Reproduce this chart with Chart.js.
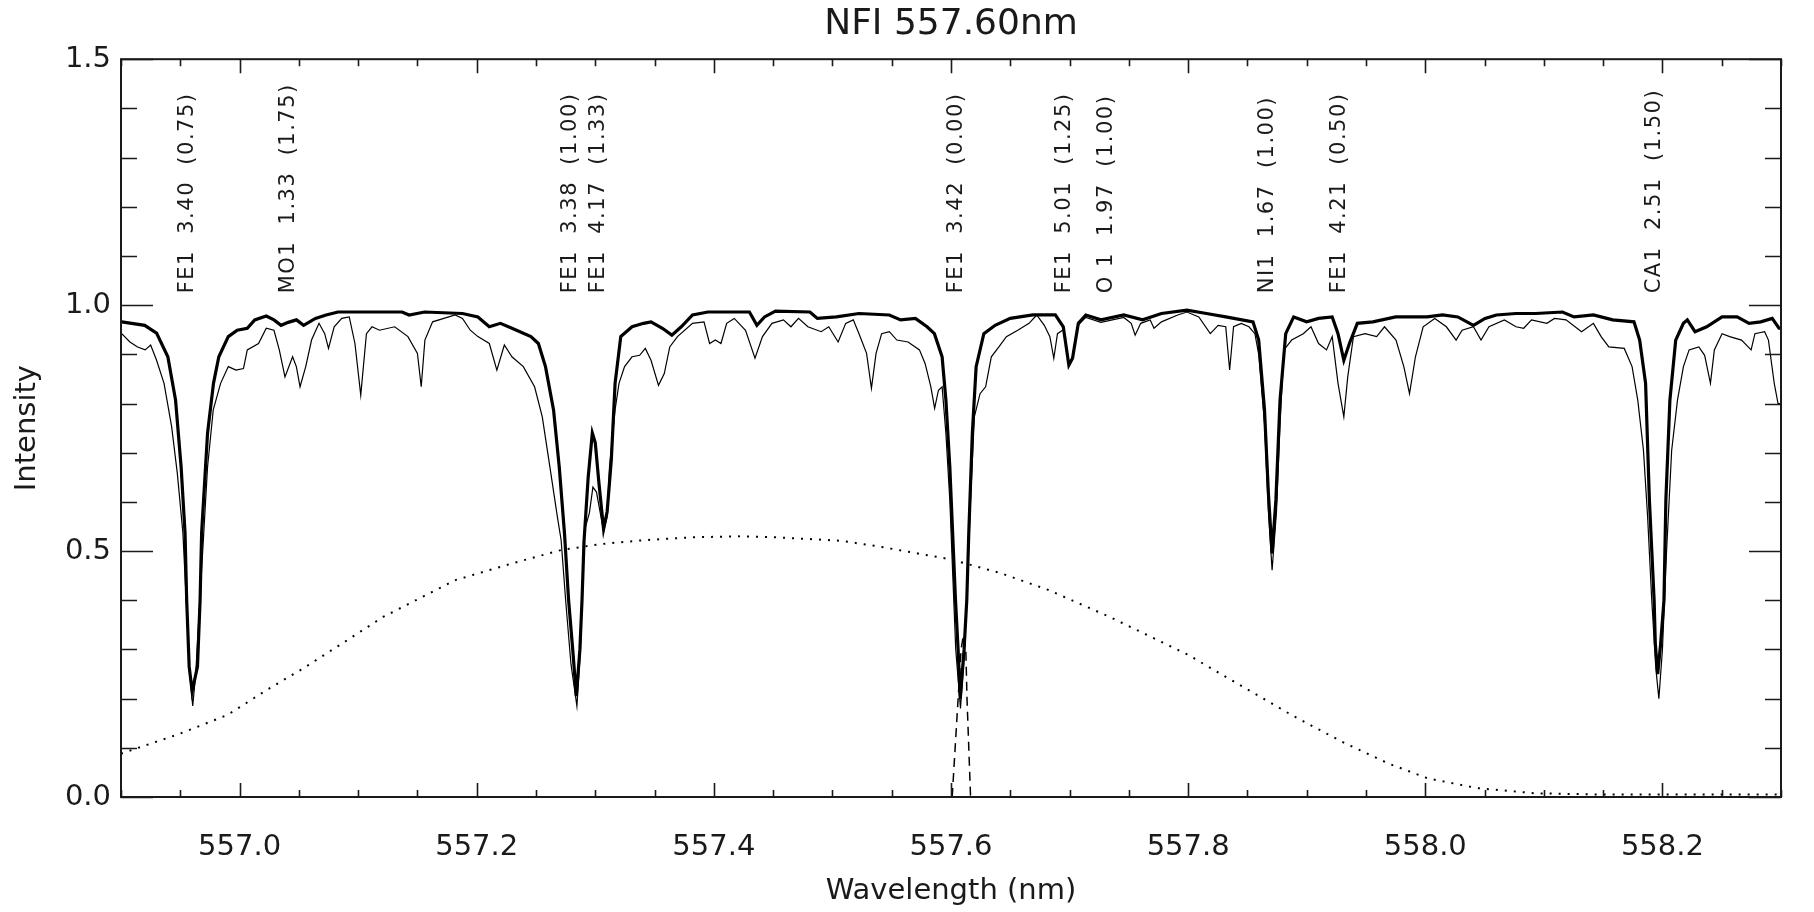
<!DOCTYPE html>
<html><head><meta charset="utf-8">
<script src="https://cdn.jsdelivr.net/npm/chart.js@4/dist/chart.umd.min.js"></script>
<style>html,body{margin:0;padding:0;background:#fff;overflow:hidden}</style>
</head><body>
<canvas id="c" width="1814" height="912"></canvas>
<script>
// ---- Data ----
const thickWl = [556.9006,556.920,556.930,556.9395,556.946,556.9507,556.954,556.9554,556.9575,556.960,556.9645,556.9667,556.968,556.973,556.978,556.9825,556.9905,556.998,557.0065,557.0128,557.0225,557.029,557.035,557.041,557.048,557.054,557.064,557.073,557.083,557.118,557.137,557.143,557.156,557.188,557.201,557.2106,557.220,557.2297,557.2457,557.252,557.258,557.2648,557.2696,557.274,557.2775,557.281,557.284,557.287,557.2888,557.2905,557.294,557.2975,557.300,557.303,557.307,557.310,557.3135,557.3167,557.3215,557.331,557.3407,557.347,557.3566,557.3646,557.3725,557.382,557.395,557.430,557.4363,557.4427,557.452,557.481,557.4873,557.5033,557.5224,557.548,557.5575,557.570,557.5798,557.586,557.5925,557.5957,557.599,557.602,557.6038,557.606,557.6078,557.611,557.6133,557.615,557.618,557.6212,557.6277,557.6372,557.650,557.669,557.688,557.6947,557.6994,557.7025,557.7074,557.7137,557.7265,557.7457,557.7616,557.7775,557.799,557.8155,557.8317,557.8547,557.8595,557.8644,557.8677,557.8708,557.874,557.8775,557.8823,557.889,557.900,557.910,557.9215,557.9264,557.9313,557.936,557.9427,557.9558,557.975,558.0015,558.0145,558.0275,558.0406,558.0504,558.060,558.0765,558.093,558.1157,558.1255,558.1418,558.158,558.176,558.1808,558.1858,558.189,558.193,558.194,558.196,558.1985,558.2013,558.2029,558.2063,558.2112,558.2177,558.221,558.2275,558.2373,558.2503,558.263,558.2731,558.2829,558.2926,558.2983,558.300];
const thickI  = [0.966,0.959,0.943,0.895,0.807,0.671,0.537,0.40,0.265,0.215,0.265,0.40,0.537,0.74,0.841,0.895,0.936,0.949,0.953,0.970,0.978,0.970,0.959,0.965,0.970,0.959,0.973,0.980,0.986,0.986,0.986,0.980,0.986,0.983,0.976,0.956,0.963,0.953,0.936,0.922,0.875,0.787,0.671,0.537,0.40,0.299,0.205,0.299,0.40,0.52,0.65,0.74,0.72,0.64,0.545,0.58,0.685,0.841,0.936,0.956,0.963,0.966,0.953,0.939,0.956,0.980,0.986,0.986,0.959,0.976,0.988,0.986,0.973,0.976,0.983,0.980,0.970,0.973,0.956,0.942,0.895,0.807,0.671,0.502,0.40,0.299,0.20,0.299,0.40,0.537,0.74,0.875,0.942,0.959,0.973,0.980,0.980,0.956,0.878,0.892,0.963,0.980,0.970,0.980,0.970,0.983,0.990,0.983,0.976,0.966,0.929,0.787,0.617,0.495,0.604,0.807,0.942,0.976,0.966,0.973,0.976,0.942,0.888,0.922,0.963,0.966,0.976,0.976,0.980,0.976,0.959,0.973,0.980,0.983,0.983,0.986,0.976,0.980,0.970,0.966,0.929,0.841,0.604,0.40,0.312,0.25,0.312,0.40,0.604,0.807,0.929,0.963,0.970,0.946,0.956,0.976,0.976,0.963,0.966,0.973,0.953,0.953];

const thinWl = [556.9006,556.9075,556.914,556.9204,556.925,556.930,556.9363,556.9427,556.9475,556.9522,556.955,556.958,556.9605,556.963,556.9665,556.9698,556.973,556.9778,556.984,556.9905,556.997,557.0033,557.0065,557.016,557.0225,557.029,557.0335,557.0383,557.0447,557.0479,557.051,557.0558,557.0607,557.067,557.0718,557.075,557.0798,557.0862,557.0925,557.0973,557.1022,557.107,557.1117,557.118,557.1308,557.142,557.150,557.1532,557.1563,557.1628,557.1723,557.1818,557.188,557.1946,557.201,557.2106,557.217,557.2233,557.2297,557.2393,557.2488,557.2553,557.2617,557.268,557.2712,557.275,557.2795,557.2845,557.2875,557.289,557.2903,557.295,557.298,557.301,557.304,557.307,557.310,557.312,557.3167,557.320,557.3247,557.331,557.3374,557.3422,557.347,557.3533,557.3582,557.3628,557.3693,557.382,557.3917,557.3964,557.4013,557.406,557.4108,557.4172,557.4267,557.4347,557.441,557.449,557.4587,557.465,557.4714,557.4793,557.4905,557.4969,557.5048,557.5112,557.5176,557.5224,557.5288,557.5329,557.5368,557.5415,557.548,557.5543,557.5638,557.5734,557.5782,557.583,557.5862,557.5894,557.5925,557.5957,557.599,557.6015,557.604,557.608,557.6115,557.614,557.6165,557.6197,557.6245,557.6292,557.634,557.6404,557.6467,557.6563,557.6658,557.6723,557.6787,557.6834,557.6867,557.6898,557.6947,557.6994,557.7025,557.7074,557.7137,557.7265,557.7457,557.752,557.7553,557.760,557.768,557.7712,557.7775,557.7912,557.799,557.809,557.8187,557.8253,557.8317,557.835,557.8383,557.8448,557.8513,557.8563,557.8595,557.8644,557.8677,557.8708,557.8745,557.8775,557.8808,557.8873,557.8971,557.9036,557.910,557.9167,557.9215,557.9264,557.9313,557.9346,557.9394,557.9492,557.959,557.9656,557.9753,557.9819,557.9867,557.9917,557.9982,558.008,558.0178,558.026,558.031,558.0406,558.047,558.0537,558.0667,558.0765,558.083,558.0896,558.1025,558.109,558.1187,558.1318,558.1418,558.1483,558.1548,558.1678,558.1744,558.1792,558.184,558.1875,558.191,558.1945,558.197,558.200,558.2035,558.2078,558.2127,558.2177,558.2225,558.2307,558.2356,558.2405,558.2438,558.2503,558.2567,558.2667,558.2748,558.278,558.2862,558.2894,558.2943,558.2975,558.300];
const thinI  = [0.942,0.925,0.915,0.909,0.919,0.888,0.841,0.753,0.658,0.537,0.40,0.25,0.185,0.25,0.40,0.537,0.671,0.787,0.841,0.875,0.868,0.871,0.909,0.922,0.953,0.949,0.909,0.854,0.895,0.875,0.834,0.875,0.929,0.963,0.942,0.912,0.956,0.973,0.976,0.922,0.817,0.942,0.956,0.949,0.956,0.936,0.902,0.834,0.929,0.966,0.973,0.980,0.973,0.949,0.936,0.922,0.868,0.919,0.895,0.875,0.834,0.773,0.671,0.570,0.522,0.40,0.27,0.185,0.30,0.42,0.537,0.577,0.63,0.62,0.58,0.54,0.57,0.671,0.787,0.841,0.875,0.895,0.898,0.912,0.888,0.837,0.861,0.915,0.936,0.963,0.966,0.922,0.929,0.922,0.963,0.973,0.949,0.892,0.936,0.963,0.970,0.956,0.973,0.956,0.946,0.956,0.925,0.963,0.970,0.942,0.902,0.831,0.902,0.942,0.946,0.929,0.925,0.909,0.881,0.834,0.790,0.827,0.834,0.739,0.604,0.45,0.30,0.18,0.30,0.45,0.604,0.773,0.820,0.834,0.895,0.915,0.936,0.949,0.963,0.980,0.959,0.936,0.892,0.942,0.950,0.880,0.895,0.960,0.975,0.965,0.975,0.963,0.939,0.963,0.970,0.953,0.966,0.980,0.986,0.976,0.942,0.959,0.956,0.868,0.956,0.963,0.956,0.942,0.90,0.76,0.58,0.461,0.58,0.76,0.909,0.929,0.942,0.956,0.922,0.909,0.936,0.841,0.773,0.854,0.936,0.942,0.936,0.956,0.929,0.875,0.820,0.895,0.956,0.973,0.956,0.929,0.949,0.956,0.929,0.956,0.970,0.956,0.953,0.970,0.963,0.973,0.970,0.946,0.963,0.936,0.915,0.912,0.875,0.807,0.705,0.570,0.40,0.26,0.20,0.30,0.50,0.705,0.807,0.875,0.909,0.915,0.898,0.841,0.909,0.942,0.936,0.929,0.909,0.942,0.946,0.929,0.841,0.800,0.800];

const filterWl = [556.900,556.950,556.990,557.0225,557.054,557.089,557.121,557.182,557.230,557.271,557.304,557.340,557.382,557.420,557.452,557.507,557.540,557.600,557.642,557.682,557.734,557.800,557.839,557.887,557.930,557.969,558.002,558.044,558.093,558.150,558.200,558.300];
const filterT  = [0.088,0.129,0.167,0.217,0.262,0.316,0.366,0.441,0.475,0.502,0.514,0.522,0.528,0.530,0.528,0.521,0.509,0.483,0.455,0.421,0.366,0.289,0.234,0.167,0.112,0.068,0.038,0.018,0.0075,0.005,0.005,0.005];

const coreWl = [557.601,557.6035,557.606,557.6085,557.6105,557.6125,557.6135,557.615,557.6165];
const coreI  = [0.0,0.10,0.20,0.30,0.33,0.30,0.20,0.10,0.0];

const lineLabelWl = [556.956,557.041,557.279,557.303,557.605,557.696,557.731,557.867,557.928,558.193];
const lineLabels  = ['FE1  3.40  (0.75)','MO1  1.33  (1.75)','FE1  3.38  (1.00)','FE1  4.17  (1.33)','FE1  3.42  (0.00)','FE1  5.01  (1.25)','O 1  1.97  (1.00)','NI1  1.67  (1.00)','FE1  4.21  (0.50)','CA1  2.51  (1.50)'];

const xTickStep = 0.05, xLabelStep = 0.2;
const yTickStep = 0.1,  yLabelStep = 0.5;

// ---- Chart ----
const FONT = '"DejaVu Sans", sans-serif';
const INK = '#1a1a1a';
const isMult = (v, s) => Math.abs(v / s - Math.round(v / s)) < 1e-6;
const pts = (xs, ys) => xs.map((x, i) => ({x, y: ys[i]}));

const frameAndTicks = {
  id: 'frameAndTicks',
  afterDraw(chart) {
    const {ctx, chartArea: a, scales: {x, y}} = chart;
    ctx.save();
    ctx.strokeStyle = INK;
    ctx.lineWidth = 2;
    ctx.strokeRect(a.left, a.top, a.right - a.left, a.bottom - a.top);
    ctx.lineWidth = 1.6;
    ctx.beginPath();
    x.ticks.forEach(t => {
      const px = Math.round(x.getPixelForValue(t.value)) + 0.5;
      const L = isMult(t.value, xLabelStep) ? 14 : 7;
      ctx.moveTo(px, a.bottom); ctx.lineTo(px, a.bottom - L);
      ctx.moveTo(px, a.top); ctx.lineTo(px, a.top + L);
    });
    y.ticks.forEach(t => {
      const py = Math.round(y.getPixelForValue(t.value)) + 0.5;
      const L = isMult(t.value, yLabelStep) ? 32 : 16;
      ctx.moveTo(a.left, py); ctx.lineTo(a.left + L, py);
      ctx.moveTo(a.right, py); ctx.lineTo(a.right - L, py);
    });
    ctx.stroke();
    ctx.restore();
  }
};

const lineLabelPlugin = {
  id: 'lineLabels',
  afterDatasetsDraw(chart, args, opts) {
    const {ctx, scales: {x, y}} = chart;
    ctx.save();
    ctx.fillStyle = INK;
    ctx.font = opts.size + 'px ' + FONT;
    if ('letterSpacing' in ctx) ctx.letterSpacing = opts.spacing + 'px';
    ctx.textAlign = 'left';
    ctx.textBaseline = 'middle';
    lineLabelWl.forEach((w, i) => {
      ctx.save();
      ctx.translate(x.getPixelForValue(w), y.getPixelForValue(opts.anchor));
      ctx.rotate(-Math.PI / 2);
      ctx.fillText(lineLabels[i], 0, 0);
      ctx.restore();
    });
    ctx.restore();
  }
};

new Chart(document.getElementById('c'), {
  type: 'scatter',
  data: {
    datasets: [
      {label: 'Filter profile', data: pts(filterWl, filterT), showLine: true, borderColor: '#000', borderWidth: 2, borderDash: [2, 7], pointRadius: 0},
      {label: 'Line core', data: pts(coreWl, coreI), showLine: true, borderColor: '#000', borderWidth: 1.5, borderDash: [9, 6], pointRadius: 0},
      {label: 'Spectrum (smoothed)', data: pts(thickWl, thickI), showLine: true, borderColor: '#000', borderWidth: 3.2, pointRadius: 0},
      {label: 'Spectrum', data: pts(thinWl, thinI), showLine: true, borderColor: '#000', borderWidth: 1.2, pointRadius: 0}
    ]
  },
  options: {
    responsive: false,
    animation: false,
    devicePixelRatio: 1,
    layout: {padding: {left: 0, right: 13, top: 0, bottom: 0}},
    plugins: {
      legend: {display: false},
      tooltip: {enabled: false},
      title: {display: true, fullSize: false, text: 'NFI 557.60nm', color: INK, font: {family: FONT, size: 36, weight: 'normal'}, padding: {top: 3, bottom: 13}},
      lineLabels: {size: 21, spacing: 1.5, anchor: 1.024}
    },
    scales: {
      x: {
        type: 'linear', min: 556.9, max: 558.3,
        grid: {display: false, drawTicks: false},
        border: {display: false},
        ticks: {stepSize: xTickStep, autoSkip: false, maxRotation: 0, padding: 33, color: INK,
                font: {family: FONT, size: 29},
                callback: v => isMult(v, xLabelStep) ? v.toFixed(1) : ''},
        title: {display: true, text: 'Wavelength (nm)', color: INK, font: {family: FONT, size: 29}, padding: {top: 0, bottom: 3}},
        afterFit: s => { s.height = 115; }
      },
      y: {
        min: 0, max: 1.5,
        grid: {display: false, drawTicks: false},
        border: {display: false},
        ticks: {stepSize: yTickStep, autoSkip: false, padding: 10, color: INK,
                font: {family: FONT, size: 29},
                callback: v => isMult(v, yLabelStep) ? v.toFixed(1) : ''},
        title: {display: true, text: 'Intensity', color: INK, font: {family: FONT, size: 29}, padding: {top: 10, bottom: 0}},
        afterFit: s => { s.width = 121; }
      }
    }
  },
  plugins: [frameAndTicks, lineLabelPlugin]
});
</script>
</body></html>
